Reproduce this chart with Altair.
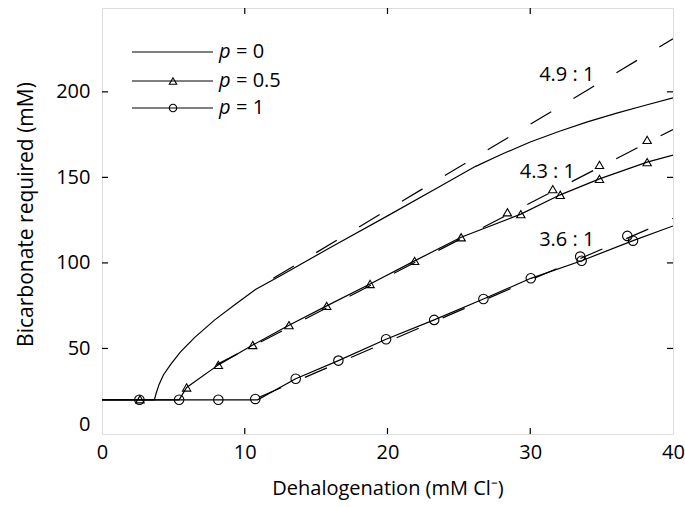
import altair as alt
import pandas as pd

# ---------------- data ----------------
# p = 0 (solid, no markers)
p0_x = [0, 3.67, 3.8, 4.0, 4.3, 4.8, 5.5, 6.5, 7.9, 9.3, 10.75, 12.47, 16, 20, 23.57,
        26.14, 28, 30, 32, 34, 36, 38, 40]
p0_y = [20, 20, 24, 29, 34.5, 40.5, 48, 56.5, 66.7, 75.5, 84.5, 92.4, 109, 127.5, 144.2,
        156.3, 163.5, 170.7, 176.8, 182.4, 187.4, 192, 196.5]

# p = 0.5 (solid line with triangles)
p05_x = [0, 5.4, 5.93, 8.15, 10.56, 13.1, 15.74, 18.78, 21.9, 25.16, 29.34, 32.1, 34.85, 38.19, 40]
p05_y = [20, 20, 27.2, 40.4, 52.0, 63.6, 74.9, 87.7, 101.2, 115.0, 128.5, 139.8, 149.1, 158.9, 163]
tri_x = [2.66, 5.93, 8.15, 10.56, 13.1, 15.74, 18.78, 21.9, 25.16, 29.34, 32.1, 34.85, 38.19]
tri_y = [20.3, 27.2, 40.4, 52.0, 63.6, 74.9, 87.7, 101.2, 115.0, 128.5, 139.8, 149.1, 158.9]
tri2_x = [28.4, 31.58, 34.85, 38.19]
tri2_y = [129.6, 143.1, 157.3, 171.9]

# p = 1 (solid line with circles)
p1_x = [0, 10.9, 13.57, 16.56, 19.9, 23.27, 26.72, 30.04, 33.6, 37.2, 40]
p1_y = [20, 20, 32.3, 42.9, 55.4, 66.7, 78.9, 91.0, 101.3, 113.0, 121.6]
cir_x = [2.62, 5.4, 8.15, 10.74, 13.57, 16.56, 19.9, 23.27, 26.72, 30.04, 33.6, 37.2]
cir_y = [20, 20, 20, 20.5, 32.3, 42.9, 55.4, 66.7, 78.9, 91.0, 101.3, 113.0]
cir2_x = [33.5, 36.8]
cir2_y = [103.7, 115.8]

# dashed ratio lines
d49_x, d49_y = [12, 40], [91, 231]
d43_x, d43_y = [8, 40], [40.4, 178]
d36_x, d36_y = [11, 40], [21.5, 126]

ann_text = ["4.9 : 1", "4.3 : 1", "3.6 : 1"]
ann_x = [32.56, 31.2, 32.56]
ann_y = [210, 153.4, 113.5]

x_ticks = [10, 20, 30]
y_ticks = [50, 100, 150, 200]
x_labels = [0, 10, 20, 30, 40]
y_labels = [0, 50, 100, 150, 200]

legend_labels = ["= 0", "= 0.5", "= 1"]

# ---------------- styling ----------------
W, H = 571, 426
FONT = "Open Sans"
FS = 20
xs = alt.Scale(domain=[0, 40], nice=False, zero=False)
ys = alt.Scale(domain=[0, 249], nice=False, zero=False)

ax_x = alt.Axis(values=x_labels, ticks=False, domain=False, grid=False,
                labelFontSize=FS, labelFont=FONT, labelColor="black", labelPadding=8,
                labelFlush=False, title="Dehalogenation (mM Cl\u207b)", titleFont=FONT,
                titleFontSize=FS, titleFontWeight="normal", titleColor="black",
                titlePadding=16)
ax_y = alt.Axis(values=y_labels, ticks=False, domain=False, grid=False,
                labelFontSize=FS, labelFont=FONT, labelColor="black", labelPadding=12,
                labelFlush=True, title="Bicarbonate required (mM)", titleFont=FONT,
                titleFontSize=21, titleFontWeight="normal", titleColor="black",
                titleX=-70, titleY=206, titleBaseline="alphabetic")


def X(f="x"):
    return alt.X(f"{f}:Q", scale=xs, axis=ax_x)


def Y(f="y"):
    return alt.Y(f"{f}:Q", scale=ys, axis=ax_y)


def line(xv, yv, dash=None):
    kw = dict(color="black", strokeWidth=1.2, clip=True)
    if dash:
        kw["strokeDash"] = dash
    return alt.Chart(pd.DataFrame({"x": xv, "y": yv})).mark_line(**kw).encode(x=X(), y=Y())


def pts(xv, yv, shape, size):
    return alt.Chart(pd.DataFrame({"x": xv, "y": yv})).mark_point(
        shape=shape, size=size, filled=False, color="black", strokeWidth=1.1, opacity=1
    ).encode(x=X(), y=Y())


layers = [
    line(p0_x, p0_y),
    line(p05_x, p05_y),
    line(p1_x, p1_y),
    line(d49_x, d49_y, [24, 26]),
    line(d43_x, d43_y, [24, 26]),
    line(d36_x, d36_y, [24, 26]),
    pts(tri_x, tri_y, "triangle-up", 70),
    pts(tri2_x, tri2_y, "triangle-up", 70),
    pts(cir_x, cir_y, "circle", 90),
    pts(cir2_x, cir2_y, "circle", 90),
]

# annotations
layers.append(
    alt.Chart(pd.DataFrame({"x": ann_x, "y": ann_y, "t": ann_text})).mark_text(
        font=FONT, fontSize=FS, color="black", align="center", baseline="middle"
    ).encode(x=X(), y=Y(), text="t:N")
)

# inward ticks on all four sides
xt = pd.DataFrame({"x": x_ticks})
yt = pd.DataFrame({"y": y_ticks})
layers += [
    alt.Chart(xt).mark_rule(color="black", strokeWidth=1.2).encode(
        x=X(), y=alt.value(H), y2=alt.value(H - 6)),
    alt.Chart(xt).mark_rule(color="black", strokeWidth=1.2).encode(
        x=X(), y=alt.value(0), y2=alt.value(6)),
    alt.Chart(yt).mark_rule(color="black", strokeWidth=1.2).encode(
        y=Y(), x=alt.value(0), x2=alt.value(6)),
    alt.Chart(yt).mark_rule(color="black", strokeWidth=1.2).encode(
        y=Y(), x=alt.value(W - 6), x2=alt.value(W)),
]

# legend (built by hand, in pixel space of the plot area)
leg_rows = [44, 73, 100]
leg = pd.DataFrame({"row": [0, 1, 2], "lab": legend_labels})
for i, ypix in enumerate(leg_rows):
    layers.append(alt.Chart(leg).transform_filter(alt.datum.row == i).mark_rule(
        color="black", strokeWidth=1.2).encode(
        x=alt.value(30), x2=alt.value(111), y=alt.value(ypix)))
    layers.append(alt.Chart(leg).transform_filter(alt.datum.row == i).mark_text(
        font=FONT, fontSize=FS, fontStyle="italic", color="black", align="left",
        baseline="middle").encode(x=alt.value(117), y=alt.value(ypix), text=alt.value("p")))
    layers.append(alt.Chart(leg).transform_filter(alt.datum.row == i).mark_text(
        font=FONT, fontSize=FS, color="black", align="left",
        baseline="middle").encode(x=alt.value(134), y=alt.value(ypix), text="lab:N"))
layers.append(alt.Chart(leg).transform_filter(alt.datum.row == 1).mark_point(
    shape="triangle-up", size=55, filled=False, color="black", strokeWidth=1.1, opacity=1
).encode(x=alt.value(71), y=alt.value(leg_rows[1])))
layers.append(alt.Chart(leg).transform_filter(alt.datum.row == 2).mark_point(
    shape="circle", size=55, filled=False, color="black", strokeWidth=1.1, opacity=1
).encode(x=alt.value(71), y=alt.value(leg_rows[2])))

chart = alt.layer(*layers).properties(
    width=W, height=H,
    autosize=alt.AutoSizeParams(type="none"),
    padding={"left": 102, "top": 8, "right": 12, "bottom": 73},
).configure_view(stroke="black", strokeWidth=1.3).configure(background="white")

chart.save("out.html", embed_options={"renderer": "svg", "actions": False})
